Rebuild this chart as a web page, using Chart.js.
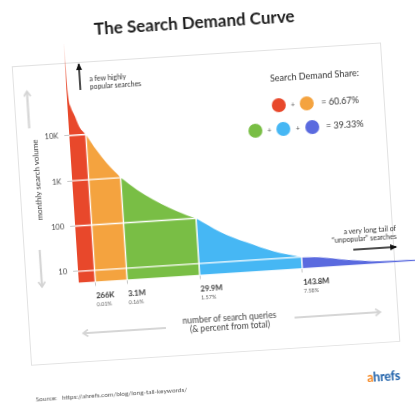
<!DOCTYPE html>
<html>
<head>
<meta charset="utf-8">
<script src="https://cdn.jsdelivr.net/npm/chart.js@4.4.1/dist/chart.umd.min.js"></script>
<style>
html,body{margin:0;padding:0;background:#fff;}
body{width:415px;height:407px;overflow:hidden;position:relative;font-family:Lato,"Open Sans",sans-serif;color:#333;}
#stage{position:absolute;left:0;top:0;width:415px;height:407px;transform:rotate(-3.7deg);transform-origin:207.5px 203.5px;}
.t{position:absolute;white-space:nowrap;line-height:1;z-index:3;}
.c{transform:translate(-50%,-50%);}
.l{transform:translateY(-50%);}
#card{position:absolute;left:21px;top:54px;width:370px;height:300px;box-sizing:border-box;border:1px solid #e2e2e2;background:#fff;z-index:0;}
#chartWrap{position:absolute;left:0;top:0;width:440px;height:330px;z-index:1;}
#over{position:absolute;left:0;top:0;z-index:2;overflow:visible;}
.dot{position:absolute;width:14px;height:14px;border-radius:50%;transform:translate(-50%,-50%);z-index:3;}
</style>
</head>
<body>
<div id="stage">
  <div id="card"></div>
  <div id="chartWrap"><canvas id="c" width="440" height="330"></canvas></div>
  <svg id="over" width="440" height="407">
    <defs>
      <marker id="ag" markerWidth="8" markerHeight="8" refX="6" refY="4" orient="auto" markerUnits="userSpaceOnUse">
        <path d="M1,0.5 L6,4 L1,7.5" fill="none" stroke="#d4d4d4" stroke-width="1.6"/>
      </marker>
      <marker id="ab" markerWidth="7" markerHeight="6" refX="6" refY="3" orient="auto" markerUnits="userSpaceOnUse">
        <path d="M0,0 L7,3 L0,6 Z" fill="#111"/>
      </marker>
    </defs>
    <line x1="34.5" y1="117" x2="34.5" y2="80" stroke="#d6d6d6" stroke-width="2.2" marker-end="url(#ag)"/>
    <line x1="37" y1="239" x2="37" y2="276" stroke="#d6d6d6" stroke-width="2.2" marker-end="url(#ag)"/>
    <line x1="158" y1="325" x2="75" y2="325" stroke="#d6d6d6" stroke-width="2.2" marker-end="url(#ag)"/>
    <line x1="287" y1="323" x2="373" y2="323" stroke="#d6d6d6" stroke-width="2.2" marker-end="url(#ag)"/>
    <line x1="88" y1="82" x2="88" y2="56" stroke="#111" stroke-width="1.5" marker-end="url(#ab)"/>
    <line x1="350" y1="259" x2="393" y2="259" stroke="#111" stroke-width="1.5" marker-end="url(#ab)"/>
  </svg>

  <div class="t c" style="left:206px;top:20.5px;font-size:17px;font-weight:bold;color:#1e1e1e;">The Search Demand Curve</div>
  <div class="t" style="left:97.5px;top:68px;font-size:7px;line-height:7.5px;color:#333;">a few highly<br>popular searches</div>
  <div class="t c" style="left:322.5px;top:82px;font-size:9px;color:#333;">Search Demand Share:</div>
  <div id="legend"></div>
  <div class="t c" style="left:38.8px;top:169px;font-size:8px;color:#444;transform:translate(-50%,-50%) rotate(-90deg);">monthly search volume</div>
  <div class="t" style="left:394px;top:236px;font-size:7px;line-height:8px;color:#333;text-align:right;transform:translateX(-100%);">a very long tail of<br>“unpopular” searches</div>
  <div class="t c" style="left:222px;top:323.5px;font-size:8.5px;line-height:9.5px;color:#444;text-align:center;">number of search queries<br>(&amp; percent from total)</div>
  <div class="t l" style="left:23.6px;top:388px;font-size:6.5px;color:#555;">Source:&nbsp;&nbsp; https://ahrefs.com/blog/long-tail-keywords/</div>
  <div class="t c" style="left:372px;top:388px;font-size:12.5px;font-weight:bold;letter-spacing:-0.2px;"><span style="color:#F5861F;">a</span><span style="color:#1B5EA8;">hrefs</span></div>
</div>

<script>
// ---- data ----
const regionColors = ['#E8482B', '#F4A33F', '#79BE45', '#46B7F4', '#5A6ADF'];
// schematic position along the query axis (0 = most popular, 100 = far tail)
const curveX = [0, 0.1, 0.4, 0.9, 2.0, 3.0, 4.7, 7.5, 10.2, 13.8, 18.2, 22.7, 27.3, 33.7, 34.5, 41.1, 48.4, 55.9, 63.8, 69.0, 76.6, 86.0, 96.0, 100];
// monthly search volume at each position
const curveVolume = [1200000, 395000, 71000, 42500, 25200, 15000, 10000, 4300, 2140, 1000, 515, 295, 182, 105, 100, 46.4, 25, 14.6, 10, 9.2, 7.4, 6.2, 6.0, 5.95];
const boundaryX = [4.7, 13.8, 34.5, 63.8];
const boundaryQueries = ['266K', '3.1M', '29.9M', '143.8M'];
const boundaryPercent = ['0.01%', '0.16%', '1.57%', '7.58%'];
const yTickValues = [10, 100, 1000, 10000];
const yTickLabels = ['10', '100', '1K', '10K'];
const shareGroups = [[0, 1], [2, 3, 4]];
const shareValues = ['60.67%', '39.33%'];

// ---- legend (share groups) ----
(function () {
  const box = document.getElementById('legend');
  const rowY = [110, 133.5];
  const eqX = [327.4, 330.7];
  const step = 28.5;
  shareGroups.forEach((g, r) => {
    const last = eqX[r] - 14;
    g.forEach((ci, k) => {
      const cx = last - (g.length - 1 - k) * step;
      const d = document.createElement('div');
      d.className = 'dot';
      d.style.left = cx + 'px'; d.style.top = rowY[r] + 'px';
      d.style.background = regionColors[ci];
      box.appendChild(d);
      if (k < g.length - 1) {
        const p = document.createElement('div');
        p.className = 't c';
        p.style.cssText = 'left:' + (cx + step / 2) + 'px;top:' + rowY[r] + 'px;font-size:7px;color:#555;';
        p.textContent = '+';
        box.appendChild(p);
      }
    });
    const e = document.createElement('div');
    e.className = 't l';
    e.style.cssText = 'left:' + eqX[r] + 'px;top:' + (rowY[r] - 1) + 'px;font-size:9px;color:#333;';
    e.textContent = '= ' + shareValues[r];
    box.appendChild(e);
  });
})();

// ---- chart ----
const edges = [curveX[0], ...boundaryX, curveX[curveX.length - 1]];
const points = curveX.map((x, j) => ({ x: x, y: curveVolume[j] }));
const datasets = regionColors.map((col, i) => ({
  data: points.filter(p => p.x >= edges[i] - 1e-9 && p.x <= edges[i + 1] + 1e-9),
  backgroundColor: col,
  borderColor: 'rgba(0,0,0,0)',
  borderWidth: 0,
  fill: 'start',
  pointRadius: 0,
  cubicInterpolationMode: 'monotone'
}));

const whiteGrid = {
  id: 'whiteGrid',
  afterDatasetsDraw(chart) {
    const { ctx, chartArea: a, scales: { x, y } } = chart;
    ctx.save();
    ctx.beginPath(); ctx.rect(a.left, a.top, a.right - a.left, a.bottom - a.top); ctx.clip();
    ctx.globalCompositeOperation = 'source-atop';
    ctx.strokeStyle = '#ffffff'; ctx.lineWidth = 1.4;
    y.ticks.forEach(t => { const p = y.getPixelForValue(t.value); ctx.beginPath(); ctx.moveTo(a.left, p); ctx.lineTo(a.right, p); ctx.stroke(); });
    x.ticks.forEach(t => { const p = x.getPixelForValue(t.value); ctx.beginPath(); ctx.moveTo(p, a.top); ctx.lineTo(p, a.bottom); ctx.stroke(); });
    ctx.restore();
  }
};
const pctLabels = {
  id: 'pctLabels',
  afterDraw(chart) {
    const { ctx, chartArea: a, scales: { x } } = chart;
    ctx.save();
    ctx.font = '5.5px Lato'; ctx.fillStyle = '#666'; ctx.textAlign = 'left'; ctx.textBaseline = 'middle';
    x.ticks.forEach((t, i) => ctx.fillText(boundaryPercent[i], x.getPixelForValue(t.value), a.bottom + 23));
    ctx.restore();
  }
};

new Chart(document.getElementById('c'), {
  type: 'line',
  data: { datasets: datasets },
  options: {
    responsive: false,
    animation: false,
    devicePixelRatio: 1,
    layout: { padding: { top: 31, left: 0, right: 15, bottom: 0 }, autoPadding: false },
    plugins: { legend: { display: false }, tooltip: { enabled: false } },
    scales: {
      x: {
        type: 'linear', min: 0, max: 100,
        border: { display: false },
        grid: { drawOnChartArea: false, drawTicks: true, tickLength: 4, tickColor: '#c8c8c8' },
        afterBuildTicks: s => { s.ticks = boundaryX.map(v => ({ value: v })); },
        ticks: { autoSkip: false, maxRotation: 0, align: 'start', padding: 6, color: '#333',
                 font: { family: 'Lato', size: 7.5, weight: 'bold' },
                 callback: (v, i) => boundaryQueries[i] },
        afterFit: s => { s.height = 55.5; }
      },
      y: {
        type: 'logarithmic', min: 5.55, max: 1280000, bounds: 'data',
        border: { display: false },
        grid: { drawOnChartArea: false, drawTicks: true, tickLength: 5, tickColor: '#c8c8c8' },
        afterBuildTicks: s => { s.ticks = yTickValues.map(v => ({ value: v })); },
        ticks: { autoSkip: false, padding: 6, color: '#444',
                 font: { family: 'Lato', size: 7.5 },
                 callback: (v, i) => yTickLabels[i] },
        afterFit: s => { s.width = 74; }
      }
    }
  },
  plugins: [whiteGrid, pctLabels]
});
</script>
</body>
</html>
